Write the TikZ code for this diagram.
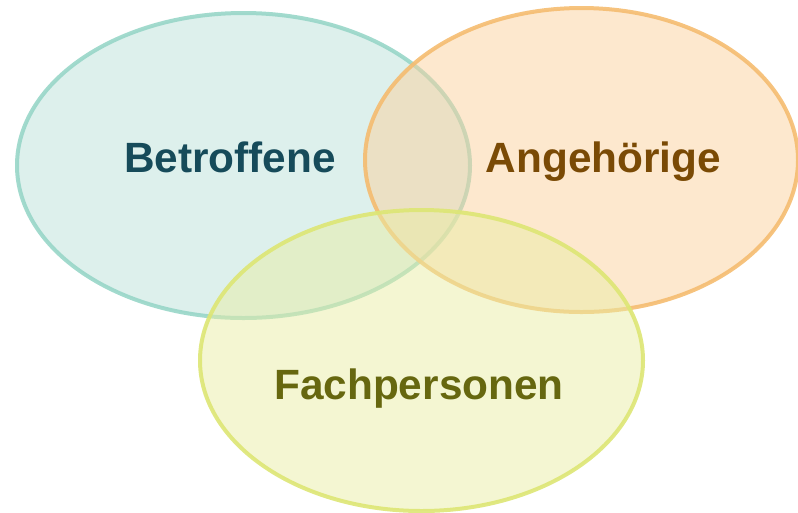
\documentclass[tikz,border=0pt]{standalone}
\usepackage{fontspec}
\setmainfont{Liberation Sans}
\usepackage{xcolor}
\usepackage{tikz}
\usetikzlibrary{positioning}

\definecolor{tealline}{HTML}{98D6C8}
\definecolor{tealfill}{HTML}{BBE1D9}
\definecolor{tealtext}{HTML}{164B5A}
\definecolor{orangeline}{HTML}{F5BC70}
\definecolor{orangefill}{HTML}{FBD19D}
\definecolor{orangetext}{HTML}{7A4A05}
\definecolor{limeline}{HTML}{DDE674}
\definecolor{limefill}{HTML}{E9EDA5}
\definecolor{limetext}{HTML}{66670F}

\begin{document}
\begin{tikzpicture}[x=0.02cm, y=-0.02cm,
    setshape/.style={line width=0.08cm, fill opacity=0.5, draw opacity=0.9},
    setlabel/.style={anchor=base, inner sep=0pt, font=\fontsize{24.1}{29}\selectfont\bfseries}]
    \useasboundingbox (0,0) rectangle (798,512);

    % Sets
    \draw[setshape, draw=tealline, fill=tealfill] (243.5,165.5) ellipse (226.5 and 152.5);
    \draw[setshape, draw=orangeline, fill=orangefill] (581.5,160) ellipse (216.5 and 152);
    \draw[setshape, draw=limeline, fill=limefill] (421.5,360.5) ellipse (221.5 and 150.5);

    % Labels
    \node[setlabel, text=tealtext] (betroffene) at (230,172) {Betroffene};
    \node[setlabel, text=orangetext] (angehoerige) at (603.5,172) {Angehörige};
    \node[setlabel, text=limetext] (fachpersonen) at (419,399) {Fachpersonen};
\end{tikzpicture}
\end{document}
